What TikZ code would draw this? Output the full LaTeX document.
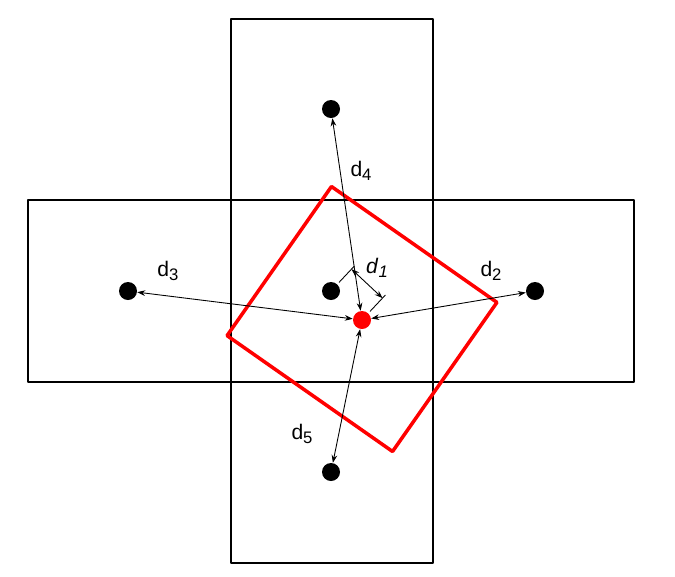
\documentclass[tikz,border=0pt]{standalone}
\usepackage{fontspec}
\setmainfont{Liberation Sans}
\usetikzlibrary{arrows.meta}
\newcommand{\idx}[1]{\raisebox{-0.3ex}{\fontsize{9.5}{11}\selectfont #1}}
\tikzset{
  cell/.style={line width=1.2pt},
  dot/.style={circle, fill=black, inner sep=0pt, minimum size=0.36cm},
  reddot/.style={dot, fill=red},
  dist/.style={line width=0.5pt, {Stealth[length=4.5pt,width=3.2pt]}-{Stealth[length=4.5pt,width=3.2pt]}},
  lbl/.style={font=\fontsize{12}{14}\selectfont, inner sep=1pt}
}
\begin{document}
\begin{tikzpicture}[x=0.02cm, y=-0.02cm, line cap=round, line join=round]
  \useasboundingbox (0,0) rectangle (675,576);
  % las cinco celdas
  \draw[cell] (231,19) rectangle (433,563);
  \draw[cell] (28,200) rectangle (634,382);
  \draw[line width=1.6pt] (231,200) rectangle (433,382);
  % el cuadro rojo girado
  \begin{scope}[shift={(362,319)}, rotate=-35]
    \draw[red, line width=2pt] (-101,-91) rectangle (101,91);
  \end{scope}
  % los puntos
  \node[dot] (c) at (331,291) {};
  \node[dot] (n) at (331,109) {};
  \node[dot] (s) at (331,472) {};
  \node[dot] (w) at (128,291) {};
  \node[dot] (e) at (535,291) {};
  \node[reddot] (r) at (362,320) {};
  % las distancias
  \draw[dist] (r) -- (e);
  \draw[dist] (r) -- (w);
  \draw[dist] (r) -- (n);
  \draw[dist] (r) -- (s);
  % la cota d1
  \coordinate (c1) at (339.2,282.2);
  \coordinate (c2) at (354.3,266.1);
  \coordinate (r1) at (370.2,311.2);
  \coordinate (r2) at (385.3,295.1);
  \coordinate (ca) at (351.5,269.1);
  \coordinate (ra) at (382.5,298.1);
  \draw[line width=0.5pt] (c1) -- (c2);
  \draw[line width=0.5pt] (r1) -- (r2);
  \draw[dist] (ca) -- (ra);
  % los textos
  \node[lbl] (l1) at (377,268) {\textit{d}\idx{\textit{1}}};
  \node[lbl] (l2) at (491,271) {d\idx{2}};
  \node[lbl] (l3) at (168,271) {d\idx{3}};
  \node[lbl] (l4) at (361,171) {d\idx{4}};
  \node[lbl] (l5) at (302,434) {d\idx{5}};
\end{tikzpicture}
\end{document}
